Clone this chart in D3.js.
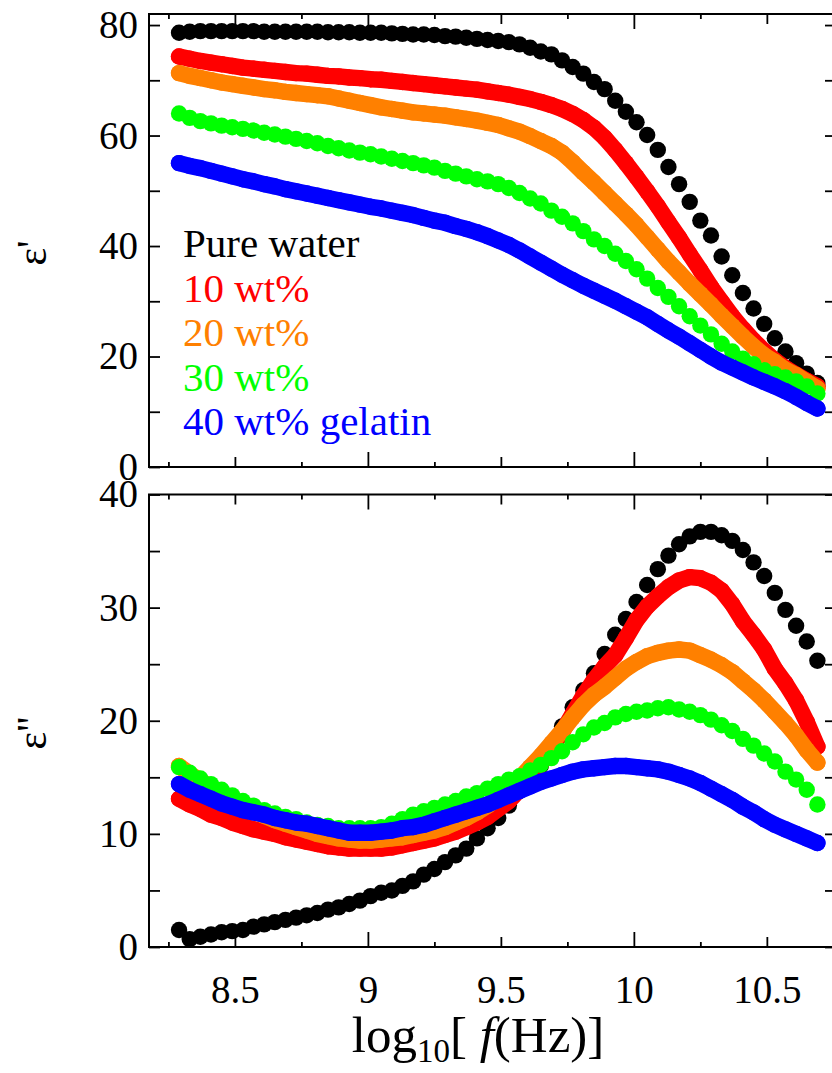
<!doctype html>
<html>
<head>
<meta charset="utf-8">
<script src="https://cdn.jsdelivr.net/npm/d3@7"></script>
<style>
  body { margin: 0; background: #fff; }
  svg { display: block; }
  svg text { font-family: "Liberation Serif", "Times New Roman", serif; }
</style>
</head>
<body>
<svg id="chart" width="832" height="1073"></svg>
<script>
// log10 of frequency, shared by all series
var logF = [8.29,8.33,8.37,8.41,8.45,8.49,8.53,8.57,8.61,8.65,
            8.69,8.73,8.77,8.81,8.85,8.89,8.93,8.97,9.01,9.05,
            9.09,9.13,9.17,9.21,9.25,9.29,9.33,9.37,9.41,9.45,
            9.49,9.53,9.57,9.61,9.65,9.69,9.73,9.77,9.81,9.85,
            9.89,9.93,9.97,10.01,10.05,10.09,10.13,10.17,10.21,10.25,
            10.29,10.33,10.37,10.41,10.45,10.49,10.53,10.57,10.61,10.65,
            10.69];

// eps' (real part)
var epsReWater = [78.6,78.8,78.9,78.9,78.9,78.9,78.9,78.9,78.8,78.8,
                  78.8,78.8,78.8,78.8,78.7,78.7,78.7,78.6,78.6,78.6,
                  78.5,78.4,78.3,78.3,78.2,78.0,77.9,77.7,77.5,77.3,
                  77.1,76.9,76.5,75.9,75.2,74.7,73.6,72.4,71.2,69.7,
                  68.4,66.3,64.3,62.4,60.1,57.4,54.3,51.2,48.0,44.6,
                  41.9,38.1,34.7,31.5,28.7,25.9,23.3,20.9,18.8,16.9,
                  15.2];
var epsRe10 = [74.3,73.9,73.5,73.2,72.9,72.6,72.3,72.1,71.9,71.7,
               71.5,71.3,71.2,71.0,70.8,70.7,70.5,70.4,70.2,70.1,
               69.9,69.7,69.5,69.3,69.1,68.9,68.7,68.5,68.3,68.0,
               67.7,67.4,67.0,66.6,66.1,65.5,64.8,63.9,62.8,61.4,
               59.6,57.4,55.0,52.5,49.9,47.2,44.3,41.5,38.5,35.6,
               32.6,29.9,27.3,25.0,22.9,21.0,19.3,17.9,16.7,15.6,
               14.6];
var epsRe20 = [71.3,70.8,70.4,70.0,69.6,69.3,69.0,68.7,68.4,68.2,
               67.9,67.7,67.5,67.3,67.1,66.7,66.3,65.9,65.5,65.1,
               64.8,64.5,64.2,64.0,63.8,63.6,63.3,63.0,62.7,62.3,
               61.9,61.3,60.7,59.9,59.0,58.1,56.9,55.2,53.3,51.5,
               49.6,47.7,45.8,43.8,41.6,39.4,37.2,35.2,33.2,31.3,
               29.4,27.4,25.5,23.6,21.8,20.2,19.0,17.6,16.6,15.4,
               14.2];
var epsRe30 = [64.0,63.2,62.6,62.2,61.8,61.5,61.2,60.9,60.5,60.2,
               59.8,59.4,59.0,58.6,58.1,57.7,57.3,56.9,56.6,56.2,
               55.8,55.4,55.0,54.6,54.2,53.6,53.1,52.6,52.1,51.7,
               51.2,50.5,49.6,48.6,47.7,46.4,45.3,44.1,42.7,41.2,
               40.0,38.6,37.3,35.8,34.1,32.4,30.8,29.1,27.3,25.6,
               24.0,22.3,20.9,19.6,18.6,17.5,16.8,16.2,15.5,14.6,
               13.3];
var epsRe40 = [55.0,54.5,54.1,53.6,53.1,52.6,52.1,51.7,51.2,50.8,
               50.3,49.9,49.5,49.1,48.7,48.3,47.9,47.5,47.1,46.8,
               46.4,46.0,45.6,45.1,44.6,44.2,43.6,43.1,42.5,41.8,
               41.0,40.2,39.2,38.1,37.0,35.9,34.8,33.8,32.8,31.9,
               31.0,30.1,29.1,28.1,27.1,25.9,24.7,23.6,22.4,21.2,
               20.0,18.9,18.0,17.1,16.2,15.4,14.6,13.7,12.7,11.6,
               10.6];

// eps'' (imaginary part)
var epsImWater = [1.5,0.7,0.9,1.1,1.3,1.4,1.5,1.8,2.0,2.2,
                  2.4,2.6,2.8,3.0,3.3,3.5,3.8,4.1,4.5,4.8,
                  5.0,5.4,5.8,6.4,6.9,7.5,8.1,8.7,9.6,10.5,
                  11.4,12.5,13.8,14.9,16.0,17.1,19.5,21.2,22.7,24.2,
                  25.9,27.6,29.0,30.5,32.0,33.4,34.6,35.6,36.3,36.7,
                  36.7,36.4,35.9,35.1,34.0,32.8,31.3,29.8,28.4,27.0,
                  25.3];
var epsIm10 = [13.1,12.6,12.2,11.7,11.4,11.0,10.7,10.4,10.2,10.0,
               9.7,9.5,9.3,9.1,8.9,8.8,8.7,8.7,8.7,8.7,
               8.8,9.0,9.2,9.4,9.6,9.9,10.2,10.6,11.0,11.5,
               12.2,12.9,13.9,14.9,16.2,17.6,19.0,20.6,22.2,23.6,
               24.8,25.8,27.3,28.9,30.1,31.0,31.8,32.4,32.7,32.6,
               32.2,31.5,30.3,28.8,27.6,26.3,24.6,23.3,21.8,19.9,
               17.7];
var epsIm20 = [16.0,15.3,14.7,14.1,13.5,13.0,12.5,12.0,11.6,11.2,
               10.9,10.6,10.3,10.0,9.8,9.6,9.5,9.4,9.4,9.5,
               9.6,9.7,9.9,10.1,10.3,10.6,11.0,11.4,11.9,12.5,
               13.2,14.0,14.9,15.9,16.9,18.0,19.1,20.3,21.4,22.3,
               23.0,23.8,24.6,25.2,25.7,26.0,26.2,26.3,26.2,25.8,
               25.4,24.9,24.3,23.5,22.7,21.8,20.8,19.8,18.7,17.4,
               16.3];
var epsIm30 = [15.9,15.4,14.9,14.4,13.9,13.4,12.9,12.5,12.1,11.8,
               11.5,11.3,11.0,10.8,10.7,10.5,10.5,10.5,10.5,10.6,
               10.9,11.3,11.7,12.0,12.3,12.6,12.9,13.3,13.6,14.0,
               14.4,14.8,15.1,15.6,16.1,16.7,17.3,18.1,18.8,19.4,
               19.8,20.3,20.6,20.8,20.9,21.1,21.2,21.0,20.8,20.5,
               20.1,19.6,19.1,18.4,17.8,17.1,16.4,15.5,14.8,13.9,
               12.6];
var epsIm40 = [14.4,13.9,13.5,13.1,12.7,12.4,12.1,11.9,11.7,11.4,
               11.2,11.0,10.9,10.7,10.5,10.3,10.1,10.1,10.1,10.2,
               10.3,10.5,10.6,10.8,11.1,11.4,11.7,12.0,12.3,12.6,
               13.0,13.4,13.8,14.2,14.6,14.9,15.2,15.5,15.7,15.8,
               15.9,16.0,16.0,15.9,15.8,15.7,15.5,15.2,14.9,14.5,
               14.0,13.5,13.0,12.4,11.9,11.3,10.8,10.4,10.0,9.6,
               9.2];

var legendLabels = ["Pure water", "10 wt%", "20 wt%", "30 wt%", "40 wt% gelatin"];
var colors = ["#000000", "#ff0000", "#ff8000", "#00ff00", "#0000ff"];
// the gelatin samples were sampled densely enough that the dots merge into a band
var dense = [false, true, true, false, true];

var yTicksTop = [0, 20, 40, 60, 80];
var yMinorTop = [10, 30, 50, 70];
var yTicksBot = [0, 10, 20, 30, 40];
var yMinorBot = [5, 15, 25, 35];
var xLabels = [8.5, 9, 9.5, 10, 10.5];
var xWhole = [9, 10];
var xHalf = [8.5, 9.5, 10.5];
var xQuarter = [8.25, 8.75, 9.25, 9.75, 10.25];

var svg = d3.select("#chart");
var left = 149, right = 836;
var r = 8.2;
var serif = "'Liberation Serif', 'Times New Roman', serif";

var x = d3.scaleLinear().domain([8.177, 10.76]).range([left, right]);
var yTop = d3.scaleLinear().domain([0, 82]).range([467, 14]);
var yBot = d3.scaleLinear().domain([0, 40]).range([947, 494.5]);

function styleAxis(g) {
    g.attr("font-family", null).attr("font-size", null);
    g.select(".domain").remove();
    g.selectAll(".tick line").attr("stroke", "#000").attr("stroke-width", 1.8);
    g.selectAll("text")
     .style("fill", "#000")
     .style("font-family", serif)
     .style("font-size", "39px");
}

function drawPanel(y, majors, minors, series, showX) {
    var top = y.range()[1], bottom = y.range()[0];
    var fmtY = function(d) { return majors.indexOf(d) >= 0 ? d : ""; };

    var dots = svg.append("g");
    series.forEach(function(vals, s) {
        var pts = logF.map(function(f, i) { return [f, vals[i]]; });
        if (dense[s]) {
            dots.append("path")
                .datum(pts)
                .attr("d", d3.line()
                    .x(function(d) { return x(d[0]); })
                    .y(function(d) { return y(d[1]); }))
                .attr("fill", "none")
                .attr("stroke", colors[s])
                .attr("stroke-width", 2 * r)
                .attr("stroke-linecap", "round")
                .attr("stroke-linejoin", "round");
        }
        dots.append("g")
            .selectAll("circle")
            .data(pts)
            .enter().append("circle")
            .attr("cx", function(d) { return x(d[0]); })
            .attr("cy", function(d) { return y(d[1]); })
            .attr("r", r)
            .attr("fill", colors[s]);
    });

    svg.append("g")
       .attr("transform", "translate(" + left + ",0)")
       .call(d3.axisLeft(y).tickValues(majors.concat(minors)).tickSize(-11)
             .tickSizeOuter(0).tickPadding(11).tickFormat(fmtY))
       .call(styleAxis);
    svg.append("g")
       .attr("transform", "translate(" + right + ",0)")
       .call(d3.axisRight(y).tickValues(majors.concat(minors)).tickSize(-11)
             .tickSizeOuter(0).tickFormat(""))
       .call(styleAxis);

    [[xWhole, 15], [xHalf, 10], [xQuarter, 5]].forEach(function(t) {
        svg.append("g")
           .attr("transform", "translate(0," + bottom + ")")
           .call(d3.axisBottom(x).tickValues(t[0]).tickSize(-t[1]).tickSizeOuter(0).tickFormat(""))
           .call(styleAxis);
        svg.append("g")
           .attr("transform", "translate(0," + top + ")")
           .call(d3.axisTop(x).tickValues(t[0]).tickSize(-t[1]).tickSizeOuter(0).tickFormat(""))
           .call(styleAxis);
    });

    if (showX) {
        svg.append("g")
           .attr("transform", "translate(0," + bottom + ")")
           .call(d3.axisBottom(x).tickValues(xLabels).tickSize(0).tickPadding(28)
                 .tickFormat(function(d) { return d; }))
           .call(styleAxis);
    }

    svg.append("rect")
       .attr("x", left).attr("y", top)
       .attr("width", right - left).attr("height", bottom - top)
       .attr("fill", "none").attr("stroke", "#000").attr("stroke-width", 2);
}

drawPanel(yTop, yTicksTop, yMinorTop, [epsReWater, epsRe10, epsRe20, epsRe30, epsRe40], false);
drawPanel(yBot, yTicksBot, yMinorBot, [epsImWater, epsIm10, epsIm20, epsIm30, epsIm40], true);

// legend inside top panel
svg.append("g").selectAll("text")
   .data(legendLabels)
   .enter().append("text")
   .attr("x", 183)
   .attr("y", function(d, i) { return 257 + i * 44.5; })
   .style("font-size", "41px")
   .attr("fill", function(d, i) { return colors[i]; })
   .text(function(d) { return d; });

// axis titles
svg.append("text")
   .attr("transform", "translate(46,253) rotate(-90)")
   .attr("text-anchor", "middle")
   .style("font-size", "42px")
   .text("\u03b5'");
svg.append("text")
   .attr("transform", "translate(46,733) rotate(-90)")
   .attr("text-anchor", "middle")
   .style("font-size", "42px")
   .text("\u03b5''");

var xt = svg.append("text")
   .attr("x", 478).attr("y", 1052)
   .attr("text-anchor", "middle")
   .style("font-size", "51px");
xt.append("tspan").text("log");
xt.append("tspan").style("font-size", "33px").attr("dy", 10).text("10");
xt.append("tspan").attr("dy", -10).text("[ ");
xt.append("tspan").style("font-style", "italic").text("f");
xt.append("tspan").text("(Hz)]");
</script>
</body>
</html>
